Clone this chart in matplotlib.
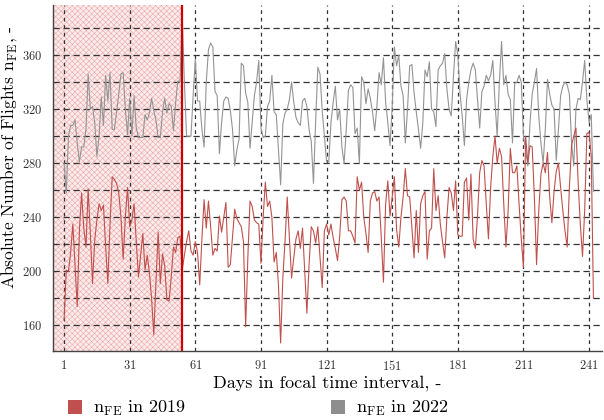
import matplotlib
matplotlib.use("Agg")
import matplotlib.pyplot as plt
from matplotlib.patches import Patch

plt.rcParams['font.family'] = 'serif'
plt.rcParams['font.serif'] = ['cmr10', 'DejaVu Serif']
plt.rcParams['mathtext.fontset'] = 'cm'
plt.rcParams['axes.formatter.use_mathtext'] = True
plt.rcParams['hatch.linewidth'] = 0.4

# daily number of flights, 2019 vs 2022
flights_2022 = [
    280, 258, 300, 308, 308, 312, 295, 281, 292, 292, 305, 346, 320, 322, 310, 285, 300, 329, 308, 345,
    326, 347, 305, 305, 318, 331, 346, 347, 320, 301, 328, 300, 330, 306, 299, 299, 299, 316, 312, 317,
    328, 319, 312, 299, 299, 318, 328, 317, 324, 322, 304, 325, 341, 340, 389, 340, 300, 300, 300, 330,
    357, 326, 326, 305, 292, 340, 364, 369, 366, 333, 330, 287, 310, 326, 329, 328, 319, 305, 278, 290,
    298, 354, 352, 332, 325, 291, 311, 330, 340, 356, 306, 299, 300, 322, 326, 345, 318, 316, 290, 264,
    309, 317, 320, 327, 340, 325, 314, 310, 308, 326, 328, 322, 305, 296, 265, 311, 351, 346, 319, 300,
    281, 281, 310, 325, 337, 312, 320, 292, 280, 305, 334, 338, 336, 302, 306, 280, 344, 340, 324, 335,
    328, 318, 304, 322, 347, 338, 358, 325, 310, 293, 322, 366, 352, 360, 337, 330, 295, 320, 352, 353,
    332, 318, 305, 291, 310, 349, 344, 355, 320, 318, 307, 349, 352, 354, 361, 335, 320, 315, 344, 370,
    360, 332, 315, 293, 327, 340, 349, 354, 349, 327, 306, 333, 337, 345, 341, 345, 356, 325, 300, 340,
    370, 338, 345, 331, 327, 295, 339, 340, 345, 340, 300, 290, 278, 310, 331, 340, 350, 315, 295, 280,
    305, 342, 331, 323, 320, 282, 305, 330, 337, 340, 338, 331, 295, 278, 320, 328, 327, 340, 356, 327,
    310, 316, 259]

flights_2019 = [
    164, 201, 200, 214, 235, 205, 174, 230, 258, 232, 218, 261, 228, 191, 223, 238, 250, 245, 249, 218,
    191, 235, 270, 268, 265, 258, 240, 209, 240, 262, 233, 238, 250, 222, 196, 212, 228, 201, 212, 199,
    180, 153, 192, 229, 191, 213, 204, 179, 178, 196, 218, 214, 225, 226, 201, 212, 222, 230, 215, 212,
    222, 214, 190, 224, 253, 232, 252, 233, 212, 217, 215, 241, 229, 240, 251, 203, 205, 225, 246, 239,
    236, 233, 222, 159, 210, 252, 248, 238, 236, 235, 206, 240, 266, 248, 252, 240, 207, 214, 190, 147,
    195, 222, 255, 225, 195, 210, 224, 230, 217, 232, 200, 169, 205, 233, 230, 221, 233, 210, 188, 230,
    235, 227, 235, 225, 217, 208, 226, 253, 255, 252, 230, 230, 226, 221, 270, 260, 266, 240, 228, 214,
    252, 258, 259, 252, 255, 225, 192, 250, 267, 241, 255, 270, 231, 218, 240, 255, 276, 256, 255, 233,
    210, 245, 214, 250, 256, 259, 209, 230, 232, 276, 245, 256, 235, 222, 210, 240, 262, 258, 245, 267,
    227, 226, 226, 266, 269, 238, 272, 224, 217, 241, 273, 282, 278, 250, 224, 262, 285, 300, 280, 291,
    285, 250, 218, 245, 291, 273, 273, 278, 250, 224, 203, 300, 280, 293, 292, 255, 205, 245, 272, 280,
    273, 288, 255, 236, 259, 274, 280, 262, 245, 230, 218, 262, 293, 300, 306, 266, 235, 211, 245, 302,
    303, 285, 180]

days = list(range(1, len(flights_2022) + 1))
x_ticks = list(range(1, 242, 30))
y_ticks = list(range(160, 361, 40))
cutoff_day = 55

fig = plt.figure(figsize=(6.04, 4.2), dpi=100)
ax = fig.add_axes([0.088, 0.164, 0.909, 0.824])

# hatched period before the cutoff
ax.axvspan(-4, cutoff_day, facecolor='#fcebeb', edgecolor='#eaaaaa', hatch='xxxxxx', linewidth=0, zorder=0)

ax.plot(days, flights_2022, color='#949494', linewidth=0.8, zorder=3)
ax.plot(days, flights_2019, color='#c0504d', linewidth=0.8, zorder=3)
ax.axvline(cutoff_day, color='#cc0000', linewidth=1.6, zorder=4)

ax.set_xlim(-4, 247)
ax.set_ylim(141, 397)
ax.set_xticks(x_ticks)
ax.set_yticks(y_ticks)
ax.set_yticks(list(range(160, 400, 20)), minor=True)
ax.tick_params(axis='both', which='both', length=0, labelsize=9, colors='#333333')
ax.tick_params(axis='x', pad=6)
ax.tick_params(axis='y', pad=8)

ax.grid(axis='y', which='both', color='#333333', linestyle=(0, (5, 3)), linewidth=0.9, zorder=1)
ax.grid(axis='x', which='major', color='#333333', linestyle=(0, (3, 3)), linewidth=0.9, zorder=1)

for side in ['top', 'right']:
    ax.spines[side].set_visible(False)
for side in ['left', 'bottom']:
    ax.spines[side].set_color('#444444')
    ax.spines[side].set_linewidth(1.0)

ax.set_xlabel('Days in focal time interval, -', fontsize=13, labelpad=1)
ax.set_ylabel(r'Absolute Number of Flights $\mathrm{n_{FE}}$, -', fontsize=12.5)
ax.yaxis.set_label_coords(-0.063, 0.56)

handles = [Patch(facecolor='#c0504d', edgecolor='none'),
           Patch(facecolor='#8e8e8e', edgecolor='none')]
labels = [r'$\mathrm{n_{FE}}$ in 2019', r'$\mathrm{n_{FE}}$ in 2022']
fig.legend(handles, labels, loc='lower left', bbox_to_anchor=(0.085, -0.035), ncol=2,
           frameon=False, fontsize=13, handlelength=0.8, handleheight=0.8,
           handletextpad=0.6, columnspacing=8.0)

fig.savefig('out.png', dpi=100)
